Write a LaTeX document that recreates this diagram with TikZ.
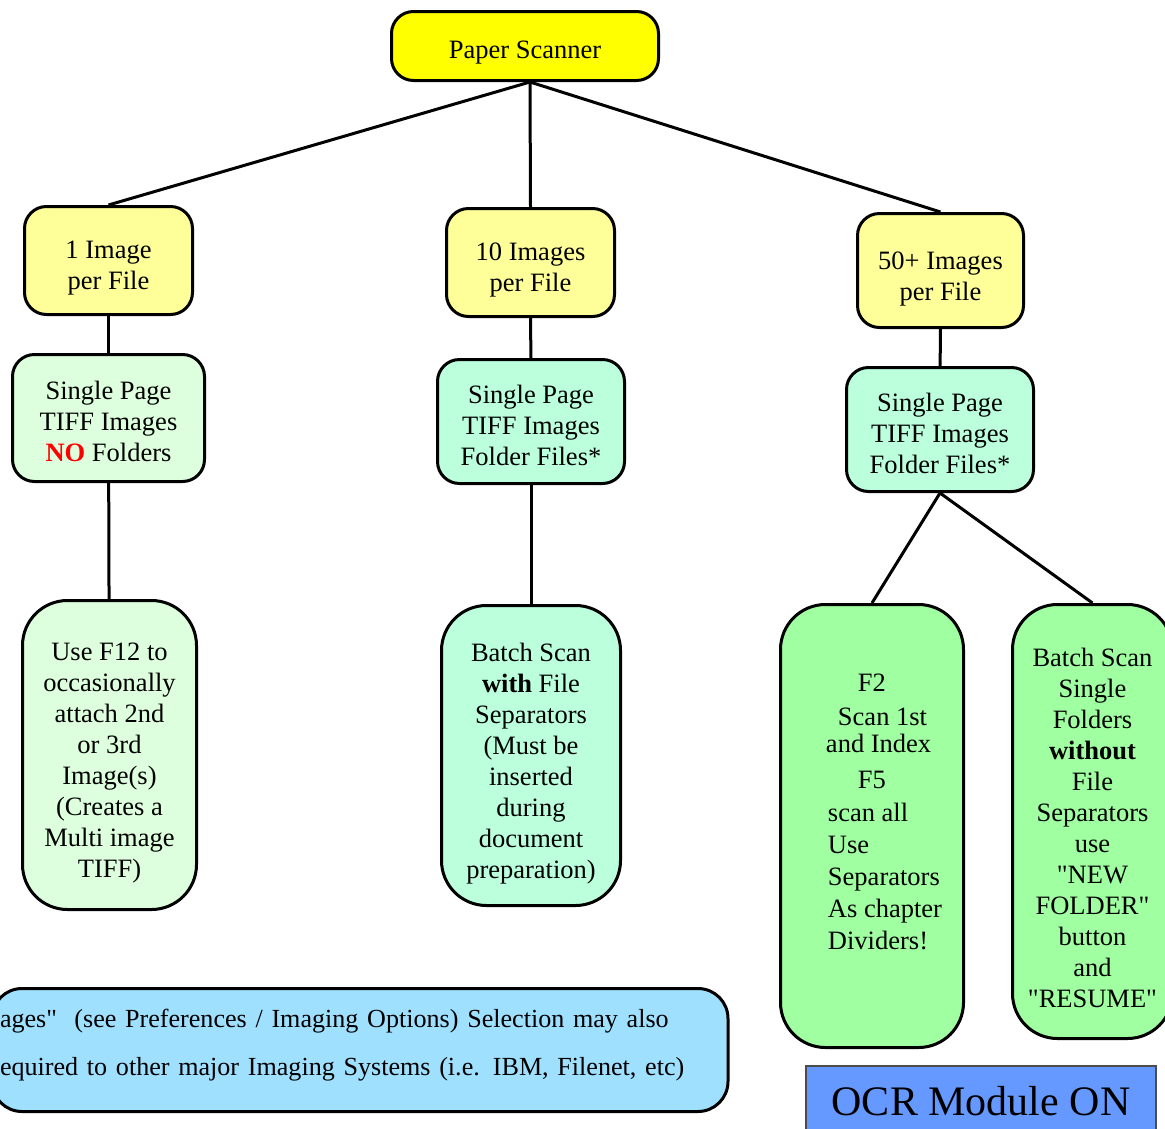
\documentclass[tikz,border=0pt]{standalone}
\usepackage{fontspec}
\setmainfont{Liberation Serif}
\usetikzlibrary{shapes,arrows,positioning,calc}
\definecolor{scanyellow}{HTML}{FFFF00}
\definecolor{paleyellow}{HTML}{FFFF99}
\definecolor{palegreen}{HTML}{DDFFDD}
\definecolor{mint}{HTML}{BBFFDD}
\definecolor{brightgreen}{HTML}{A0FFA0}
\definecolor{skyblue}{HTML}{A0E0FF}
\definecolor{ocrblue}{HTML}{6699FF}
\newcommand{\strutto}[1]{\rule{0pt}{#1}}
\tikzset{
box/.style = {draw, line width=3pt, rectangle, rounded corners=22pt, align=center, inner sep=2pt, font=\fontsize{26.5}{31}\selectfont},
tallbox/.style = {box, rounded corners=45pt},
link/.style = {draw, line width=3pt},
}
\begin{document}
\begin{tikzpicture}[x=1pt,y=-1pt]
        \clip (0,0) rectangle (1165,1128);
        %top
        \node [box, fill=scanyellow, minimum width=267pt, minimum height=69pt] (scanner) at(525,46) {\strutto{31pt}Paper Scanner};
        %images per file
        \node [box, fill=paleyellow, minimum width=168pt, minimum height=108pt] (one) at(108.5,260.5) {\strutto{33pt}1 Image\\per File};
        \node [box, fill=paleyellow, minimum width=168pt, minimum height=108pt] (ten) at(530.5,262.5) {\strutto{33pt}10 Images\\per File};
        \node [box, fill=paleyellow, minimum width=166pt, minimum height=114pt] (fifty) at(940.5,270.5) {\strutto{34pt}50+ Images\\per File};
        %single page tiff
        \node [box, fill=palegreen, minimum width=192pt, minimum height=127pt] (sp1) at(108.5,418) {\strutto{25pt}Single Page\\TIFF Images\\{\color{red}\textbf{NO}} Folders};
        \node [box, fill=mint, minimum width=187pt, minimum height=124pt] (sp2) at(531,421.5) {\strutto{27pt}Single Page\\TIFF Images\\Folder Files*};
        \node [box, fill=mint, minimum width=187pt, minimum height=124pt] (sp3) at(940,429.5) {\strutto{27pt}Single Page\\TIFF Images\\Folder Files*};
        %what to do
        \node [tallbox, fill=palegreen, minimum width=174pt, minimum height=309pt] (f12) at(109.5,755) {\strutto{33pt}Use F12 to\\occasionally\\attach 2nd\\or 3rd\\Image(s)\\(Creates a\\Multi image\\TIFF)};
        \node [tallbox, fill=mint, minimum width=179pt, minimum height=300pt] (batch) at(531,755.5) {\strutto{35pt}Batch Scan\\\textbf{with} File\\Separators\\(Must be\\inserted\\during\\document\\preparation)};
        \node [tallbox, fill=brightgreen, minimum width=183pt, minimum height=443pt, align=left] (f2) at(872,826) {\hspace*{56pt}F2\\[3pt]\hspace*{36pt}Scan 1st\\[-4pt]\hspace*{24pt}and Index\\[5pt]\hspace*{56pt}F5\\[2pt]\hspace*{26pt}scan all\\[1pt]\hspace*{26pt}Use\\[1pt]\hspace*{26pt}Separators\\[1pt]\hspace*{26pt}As chapter\\[1pt]\hspace*{26pt}Dividers!\rule[-28pt]{0pt}{28pt}};
        \node [tallbox, fill=brightgreen, minimum width=160pt, minimum height=434pt] (batch2) at(1092.5,821.5) {\strutto{31pt}Batch Scan\\Single\\Folders\\\textbf{without}\\File\\Separators\\use\\\textquotedbl NEW\\FOLDER\textquotedbl\\button\\and\\\textquotedbl RESUME\textquotedbl};
        %bottom notes
        \node [box, fill=skyblue, rounded corners=30pt, align=left, text width=720pt, inner xsep=8pt, minimum height=123pt, font=\fontsize{26.1}{31}\selectfont] (note) at(360,1050) {ages\textquotedbl~ (see Preferences / Imaging Options) Selection may also\\[17pt]equired to other major Imaging Systems (i.e. IBM, Filenet, etc)\rule[-15pt]{0pt}{15pt}};
        \node [draw=black!70, line width=2pt, fill=ocrblue, rectangle, minimum width=350pt, minimum height=70pt, font=\fontsize{42}{48}\selectfont] (ocr) at(981,1101) {OCR Module ON};

        \draw [link] ([xshift=5pt]scanner.south)--(one.north);
        \draw [link] ([xshift=5pt]scanner.south)--(ten.north);
        \draw [link] ([xshift=5pt]scanner.south)--(fifty.north);
        \draw [link] (one)--(sp1);
        \draw [link] (ten)--(sp2);
        \draw [link] (fifty)--(sp3);
        \draw [link] (sp1)--(f12);
        \draw [link] (sp2)--(batch);
        \draw [link] (sp3.south)--(f2.north);
        \draw [link] (sp3.south)--(batch2.north);
\end{tikzpicture}
\end{document}
